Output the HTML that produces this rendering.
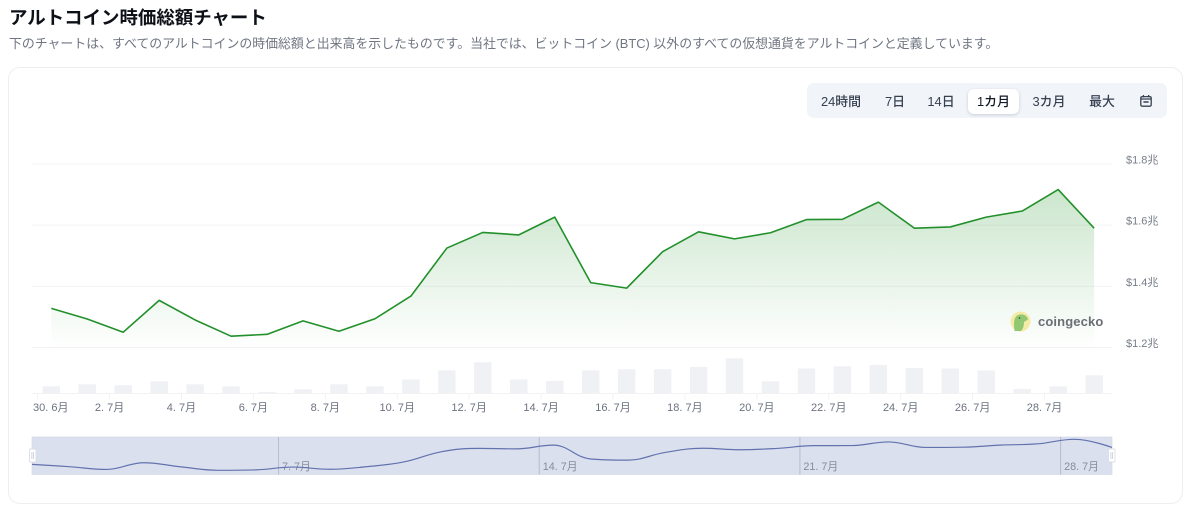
<!DOCTYPE html>
<html lang="ja">
<head>
<meta charset="utf-8">
<title>アルトコイン時価総額チャート</title>
<style>
html,body{margin:0;padding:0;background:#fff;}
body{width:1200px;height:518px;position:relative;overflow:hidden;font-family:"Liberation Sans","Noto Sans CJK JP",sans-serif;}
#page-title{position:absolute;left:9px;top:5px;margin:0;font-size:18.45px;line-height:26px;font-weight:700;color:#0d1117;white-space:nowrap;}
#page-sub{position:absolute;left:9px;top:35px;margin:0;font-size:12.9px;line-height:18px;color:#6f7682;white-space:nowrap;}
#card{position:absolute;left:8px;top:67px;width:1173px;height:435px;border:1px solid #eceef1;border-radius:12px;background:#fff;}
#chart{position:absolute;left:0;top:0;}
#range{position:absolute;left:807px;top:83px;width:360px;height:35px;background:#f1f4f9;border-radius:7px;}
.rbtn{position:absolute;top:6px;height:25px;line-height:25px;margin:0;padding:0;border:0;background:none;font:500 12.9px/25px "Liberation Sans","Noto Sans CJK JP",sans-serif;color:#374151;text-align:center;white-space:nowrap;}
.rbtn.on{background:#fff;border-radius:6px;color:#111827;box-shadow:0 1px 3px rgba(30,40,70,.18);}
</style>
</head>
<body>
<h1 id="page-title">アルトコイン時価総額チャート</h1>
<p id="page-sub">下のチャートは、すべてのアルトコインの時価総額と出来高を示したものです。当社では、ビットコイン (BTC) 以外のすべての仮想通貨をアルトコインと定義しています。</p>
<div id="card"></div>
<svg id="chart" width="1200" height="518" viewBox="0 0 1200 518" xmlns="http://www.w3.org/2000/svg">
  <defs>
    <linearGradient id="areaFill" gradientUnits="userSpaceOnUse" x1="0" y1="189" x2="0" y2="349">
      <stop offset="0" stop-color="#2f9a35" stop-opacity="0.25"/>
      <stop offset="1" stop-color="#2f9a35" stop-opacity="0"/>
    </linearGradient>
  </defs>
  <g id="grid"></g>
  <g id="bars"></g>
  <g id="area"></g>
  <g id="xaxis"></g>
  <g id="yaxis"></g>
  <g id="logo">
    <circle cx="1020.5" cy="321.5" r="10" fill="#f4eca6"/>
    <path d="M1014.5 331 C1013.5 324 1013.5 317 1018 315 C1023 313 1027.5 316 1028 319.5 L1024 322 C1024 326 1023 329 1021 331 Z" fill="#93c873"/>
    <circle cx="1019.5" cy="318" r="0.9" fill="#4a5a3a"/>
    <text x="1038" y="326" font-family="'Liberation Sans',sans-serif" font-weight="700" font-size="13" letter-spacing="0.12" fill="#6a6f74">coingecko</text>
  </g>
  <g id="nav"></g>
</svg>
<div id="range">
  <button class="rbtn" style="left:7px;width:54px">24時間</button>
  <button class="rbtn" style="left:70px;width:36px">7日</button>
  <button class="rbtn" style="left:114px;width:40px">14日</button>
  <button class="rbtn on" style="left:161px;width:51px">1カ月</button>
  <button class="rbtn" style="left:218px;width:48px">3カ月</button>
  <button class="rbtn" style="left:275px;width:40px">最大</button>
  <svg style="position:absolute;left:332px;top:11px" width="14" height="14" viewBox="0 0 14 14">
    <rect x="1.8" y="2.6" width="10.4" height="9.6" rx="1.4" fill="none" stroke="#374151" stroke-width="1.3"/>
    <path d="M4.4 1v2.4M9.6 1v2.4M2 5h10" stroke="#374151" stroke-width="1.3" fill="none"/>
    <path d="M4.4 8h5.2" stroke="#374151" stroke-width="1.5"/>
  </svg>
</div>
<script>
// Market cap in trillion USD, 30 Jun – 29 Jul
const marketCap = [1.328,1.293,1.250,1.354,1.290,1.237,1.243,1.287,1.253,1.294,1.368,1.525,1.576,1.568,1.626,1.412,1.394,1.513,1.578,1.555,1.575,1.618,1.619,1.675,1.590,1.594,1.626,1.646,1.716,1.590];
// Volume in billion USD
const volume = [36,46,41,61,46,36,8,21,46,36,70,116,156,70,63,116,121,121,133,176,61,125,136,143,128,125,115,23,36,91];
const yTickValues = [1.2,1.4,1.6,1.8];
const yTickLabels = ['$1.2兆','$1.4兆','$1.6兆','$1.8兆'];
const xTickIndex = [0,2,4,6,8,10,12,14,16,18,20,22,24,26,28];
const xTickLabels = ['30. 6月','2. 7月','4. 7月','6. 7月','8. 7月','10. 7月','12. 7月','14. 7月','16. 7月','18. 7月','20. 7月','22. 7月','24. 7月','26. 7月','28. 7月'];
const navTickIndex = [7,14,21,28];
const navTickLabels = ['7. 7月','14. 7月','21. 7月','28. 7月'];

const NS = 'http://www.w3.org/2000/svg';
const FONT = '"Liberation Sans","Noto Sans CJK JP",sans-serif';
function mk(parent, tag, attrs, text) {
  const el = document.createElementNS(NS, tag);
  for (const k in attrs) el.setAttribute(k, attrs[k]);
  if (text !== undefined) el.textContent = text;
  parent.appendChild(el);
  return el;
}
const xMain = i => 51.3 + i * 35.96;
const yMain = v => 347.5 - (v - 1.2) * 306;
const yVol = v => v * 0.2;
const BASE = 393.5;
const xNav = i => 32 + i * (1080 / (marketCap.length - 1));
const navMin = Math.min(...marketCap), navMax = Math.max(...marketCap);
const yNav = v => 470.3 - (v - navMin) / (navMax - navMin) * 31;
const TICK_SHIFT = 0.38;

const grid = document.getElementById('grid');
const yaxis = document.getElementById('yaxis');
yTickValues.forEach((v, i) => {
  const g = mk(grid, 'line', {x1: 32, x2: 1112, y1: yMain(v), y2: yMain(v), stroke: '#f1f2f4', 'stroke-width': 1});
  
  
  const t = mk(yaxis, 'text', {x: 1126, y: yMain(v) - 0.5, 'font-size': 11, fill: '#777d88', 'font-family': FONT}, yTickLabels[i]);
  
  
});

const bars = document.getElementById('bars');
volume.forEach((v, i) => {
  const h = yVol(v);
  const b = mk(bars, 'rect', {x: xMain(i) - 8.7, y: BASE - h, width: 17.4, height: h, fill: '#f0f1f5'});
  
  
});

const area = document.getElementById('area');
const linePts = marketCap.map((v, i) => xMain(i).toFixed(2) + ',' + yMain(v).toFixed(2));
const fillEl = mk(area, 'path', {d: 'M' + xMain(0) + ',349 L' + linePts.join(' L') + ' L' + xMain(marketCap.length - 1) + ',349 Z', fill: 'url(#areaFill)'});


const lineEl = mk(area, 'path', {d: 'M' + linePts.join(' L'), fill: 'none', stroke: '#22902b', 'stroke-width': 1.6, 'stroke-linejoin': 'round'});



const xaxis = document.getElementById('xaxis');
const axisLine = mk(xaxis, 'line', {x1: 32, x2: 1112, y1: BASE, y2: BASE, stroke: '#f1f2f4', 'stroke-width': 1});


xTickIndex.forEach((idx, i) => {
  const px = xMain(idx - TICK_SHIFT);
  const tk = mk(xaxis, 'line', {x1: px, x2: px, y1: BASE, y2: BASE + 6, stroke: '#f1f2f4', 'stroke-width': 1});
  
  
  const first = i === 0;
  const lab = mk(xaxis, 'text', {x: first ? 33 : px, y: 411, 'text-anchor': first ? 'start' : 'middle', 'font-size': 11, fill: '#6b7280', 'font-family': FONT}, xTickLabels[i]);
  
  
});

// Navigator
const nav = document.getElementById('nav');
const navTop = 437, navBot = 474.5;
const sel = mk(nav, 'rect', {x: 32, y: navTop, width: 1080, height: navBot - navTop, fill: '#4a62ad', 'fill-opacity': 0.2, stroke: '#cfd5e6', 'stroke-width': 0.6});


navTickIndex.forEach((idx, i) => {
  const px = xNav(idx - TICK_SHIFT);
  const l = mk(nav, 'line', {x1: px, x2: px, y1: navTop, y2: navBot, stroke: '#b6bcd0', 'stroke-width': 1});
  
  
  const t = mk(nav, 'text', {x: px + 3.5, y: 470, 'font-size': 10.8, fill: '#878c9c', 'font-family': FONT}, navTickLabels[i]);
  
  
});

function splinePath(pts) {
  const S = 1.5, D = 2.5;
  let d = 'M' + pts[0][0].toFixed(2) + ',' + pts[0][1].toFixed(2);
  let prevR = pts[0];
  for (let i = 1; i < pts.length; i++) {
    const [x, y] = pts[i];
    const [lx, ly] = pts[i - 1];
    let lcx = x, lcy = y, rcx = x, rcy = y;
    if (i < pts.length - 1) {
      const [nx, ny] = pts[i + 1];
      lcx = (S * x + lx) / D; lcy = (S * y + ly) / D;
      rcx = (S * x + nx) / D; rcy = (S * y + ny) / D;
      const c = ((rcy - lcy) * (rcx - x)) / (rcx - lcx) + y - rcy;
      lcy += c; rcy += c;
      if (lcy > ly && lcy > y) { lcy = Math.max(ly, y); rcy = 2 * y - lcy; }
      else if (lcy < ly && lcy < y) { lcy = Math.min(ly, y); rcy = 2 * y - lcy; }
      if (rcy > ny && rcy > y) { rcy = Math.max(ny, y); lcy = 2 * y - rcy; }
      else if (rcy < ny && rcy < y) { rcy = Math.min(ny, y); lcy = 2 * y - rcy; }
    }
    d += ' C' + prevR[0].toFixed(2) + ',' + prevR[1].toFixed(2) + ' ' + lcx.toFixed(2) + ',' + lcy.toFixed(2) + ' ' + x.toFixed(2) + ',' + y.toFixed(2);
    prevR = [rcx, rcy];
  }
  return d;
}
const navLine = mk(nav, 'path', {d: splinePath(marketCap.map((v, i) => [xNav(i), yNav(v)])), fill: 'none', stroke: '#6272ad', 'stroke-width': 1.2});



[[29.5, 'navigator-handle-left'], [1108.5, 'navigator-handle-right']].forEach(h => {
  const r = mk(nav, 'rect', {x: h[0], y: 449, width: 6.5, height: 13, rx: 1, fill: '#fff', stroke: '#d9dde7', 'stroke-width': 0.9});
  
  
  const grip = mk(nav, 'path', {d: 'M' + (h[0] + 2.4) + ' 452v7M' + (h[0] + 4.1) + ' 452v7', stroke: '#c0c5d4', 'stroke-width': 0.7, fill: 'none'});
  
  
});
</script>
</body>
</html>
